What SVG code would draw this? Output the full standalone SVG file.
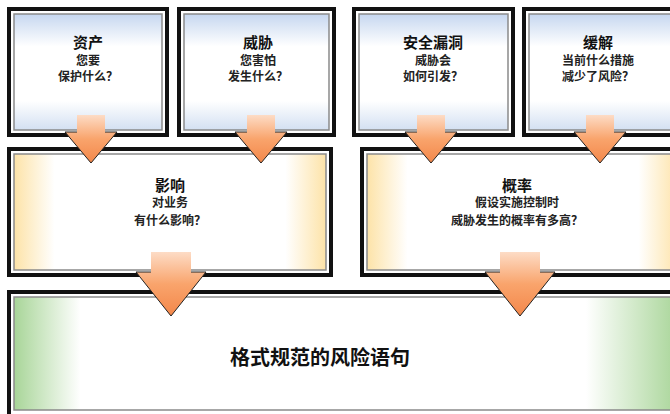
<svg xmlns="http://www.w3.org/2000/svg" width="670" height="414" viewBox="0 0 670 414">
<defs>
<linearGradient id="gBlue" x1="0" y1="0" x2="0" y2="1">
<stop offset="0" stop-color="#c6d7f0"/><stop offset="0.28" stop-color="#ffffff"/><stop offset="0.75" stop-color="#ffffff"/><stop offset="1" stop-color="#d3e0f2"/>
</linearGradient>
<linearGradient id="gYellow" x1="0" y1="0" x2="1" y2="0">
<stop offset="0" stop-color="#fde3a8"/><stop offset="0.13" stop-color="#ffffff"/><stop offset="0.87" stop-color="#ffffff"/><stop offset="1" stop-color="#fde3a8"/>
</linearGradient>
<linearGradient id="gGreen" x1="0" y1="0" x2="1" y2="0">
<stop offset="0" stop-color="#a8d598"/><stop offset="0.1" stop-color="#ffffff"/><stop offset="0.86" stop-color="#ffffff"/><stop offset="1" stop-color="#a8d598"/>
</linearGradient>
<linearGradient id="gArrow" x1="0" y1="0" x2="0" y2="1">
<stop offset="0" stop-color="#fddcc6"/><stop offset="0.5" stop-color="#f9a46c"/><stop offset="1" stop-color="#f3874a"/>
</linearGradient>
</defs>
<style>
.frame{fill:none;stroke:#111;stroke-width:4}
.inner{stroke:#8a8a8a;stroke-width:1.5}
.t{font-family:"Noto Sans CJK SC","Noto Sans",sans-serif;fill:#111;text-anchor:middle}
.title{font-size:15px;font-weight:bold}
.sub{font-size:12px;font-weight:bold;fill:#222}
.big{font-size:20px;font-weight:bold}
.arrow{fill:url(#gArrow);stroke:none}
.edge{fill:none;stroke:#222;stroke-width:1}
</style>
<rect width="670" height="414" fill="#fff"/>

<g id="asset">
<rect x="14" y="14" width="148" height="116" fill="url(#gBlue)" class="inner"/>
<rect x="9" y="9" width="158" height="126" class="frame"/>
<text class="t title" x="88" y="48">资产</text>
<text class="t sub" x="88" y="65">您要</text>
<text class="t sub" x="88" y="81">保护什么？</text>
</g>

<g id="threat">
<rect x="184" y="14" width="145" height="116" fill="url(#gBlue)" class="inner"/>
<rect x="179" y="9" width="155" height="126" class="frame"/>
<text class="t title" x="258" y="48">威胁</text>
<text class="t sub" x="258" y="65">您害怕</text>
<text class="t sub" x="258" y="81">发生什么？</text>
</g>

<g id="vulnerability">
<rect x="359" y="14" width="149" height="116" fill="url(#gBlue)" class="inner"/>
<rect x="354" y="9" width="159" height="126" class="frame"/>
<text class="t title" x="433" y="48">安全漏洞</text>
<text class="t sub" x="433" y="65">威胁会</text>
<text class="t sub" x="433" y="81">如何引发？</text>
</g>

<g id="mitigation">
<rect x="529" y="14" width="150" height="116" fill="url(#gBlue)" class="inner"/>
<rect x="524" y="9" width="160" height="126" class="frame"/>
<text class="t title" x="598" y="48">缓解</text>
<text class="t sub" x="598" y="65">当前什么措施</text>
<text class="t sub" x="598" y="81">减少了风险？</text>
</g>

<g id="impact">
<rect x="14" y="154" width="312" height="116" fill="url(#gYellow)" class="inner"/>
<rect x="9" y="149" width="322" height="126" class="frame"/>
<text class="t title" x="170" y="191">影响</text>
<text class="t sub" x="170" y="207">对业务</text>
<text class="t sub" x="170" y="225">有什么影响？</text>
</g>

<g id="probability">
<rect x="367" y="154" width="312" height="116" fill="url(#gYellow)" class="inner"/>
<rect x="362" y="149" width="322" height="126" class="frame"/>
<text class="t title" x="517" y="191">概率</text>
<text class="t sub" x="517" y="207">假设实施控制时</text>
<text class="t sub" x="517" y="225">威胁发生的概率有多高？</text>
</g>

<g id="risk-statement">
<rect x="14" y="297" width="665" height="113" fill="url(#gGreen)" class="inner"/>
<rect x="9" y="292" width="675" height="130" class="frame"/>
<text class="t big" x="320" y="365">格式规范的风险语句</text>
</g>

<g id="connectors">
<polygon class="arrow" points="77,115 77,132 65,132 91,163 117,132 105,132 105,115"/>
<polyline class="edge" points="77,132 65,132 91,163 117,132 105,132"/>
<polygon class="arrow" points="247,115 247,132 235,132 261,163 287,132 275,132 275,115"/>
<polyline class="edge" points="247,132 235,132 261,163 287,132 275,132"/>
<polygon class="arrow" points="417,115 417,132 405,132 431,163 457,132 445,132 445,115"/>
<polyline class="edge" points="417,132 405,132 431,163 457,132 445,132"/>
<polygon class="arrow" points="586,115 586,132 574,132 600,163 626,132 614,132 614,115"/>
<polyline class="edge" points="586,132 574,132 600,163 626,132 614,132"/>
<polygon class="arrow" points="151,252 151,272 136,272 171,316 206,272 191,272 191,252"/>
<polyline class="edge" points="151,272 136,272 171,316 206,272 191,272"/>
<polygon class="arrow" points="500,252 500,272 485,272 520,316 555,272 540,272 540,252"/>
<polyline class="edge" points="500,272 485,272 520,316 555,272 540,272"/>
</g>
</svg>
